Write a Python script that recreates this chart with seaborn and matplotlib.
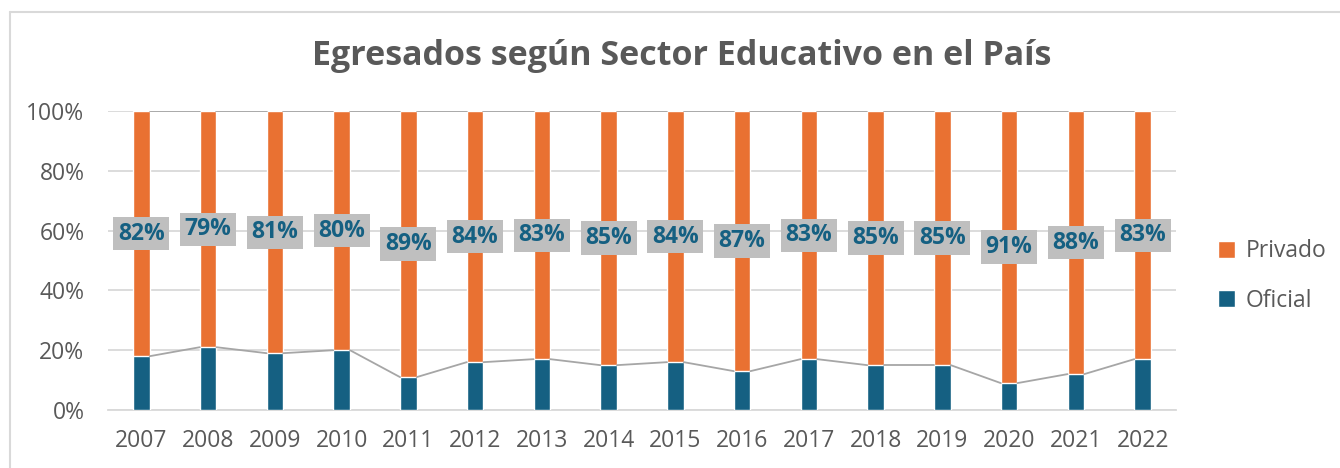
import matplotlib
matplotlib.use("Agg")
import matplotlib.pyplot as plt
import seaborn as sns
import pandas as pd
import numpy as np
from matplotlib.lines import Line2D
from matplotlib.patches import Patch

years = ["2007", "2008", "2009", "2010", "2011", "2012", "2013", "2014",
         "2015", "2016", "2017", "2018", "2019", "2020", "2021", "2022"]
privado = [82, 79, 81, 80, 89, 84, 83, 85, 84, 87, 83, 85, 85, 91, 88, 83]
oficial = [100 - p for p in privado]

sns.set_theme(style="white")
plt.rcParams['font.family'] = ['Open Sans', 'DejaVu Sans']

ORANGE = "#E97132"
BLUE = "#156082"
TXT = "#595959"
GRID = "#D9D9D9"

df = pd.DataFrame({"year": years, "Oficial": oficial, "Privado": privado})
df["total"] = df["Oficial"] + df["Privado"]

fig = plt.figure(figsize=(13.4, 4.68), dpi=100)
ax = fig.add_axes([108/1340, 58/468, (1176-108)/1340, (410-111)/468])

sns.barplot(data=df, x="year", y="total", color=ORANGE, width=0.25,
            saturation=1, ax=ax, zorder=2)
sns.barplot(data=df, x="year", y="Oficial", color=BLUE, width=0.25,
            saturation=1, ax=ax, zorder=3)

# series lines connecting bar tops
bars = ax.patches[len(years):]
for i in range(len(bars) - 1):
    b0, b1 = bars[i], bars[i + 1]
    x0 = b0.get_x() + b0.get_width()
    x1 = b1.get_x()
    ax.plot([x0, x1], [b0.get_height(), b1.get_height()], color="#A6A6A6",
            lw=1.3, zorder=4)
    ax.plot([x0, x1], [100, 100], color="#A6A6A6", lw=1.3, zorder=4)

# data labels
for i, (o, p) in enumerate(zip(oficial, privado)):
    ax.text(i, o + p / 2, f"{p}%", ha="center", va="center", fontsize=16.5,
            fontweight="bold", color=BLUE, zorder=5,
            bbox=dict(boxstyle="square,pad=0.2", fc="#BFBFBF", ec="none"))

ax.set_xlim(-0.5, len(years) - 0.5)
ax.set_ylim(0, 100)
ax.set_yticks([0, 20, 40, 60, 80, 100])
ax.set_yticklabels([f"{v}%" for v in [0, 20, 40, 60, 80, 100]])
ax.yaxis.grid(True, color=GRID, lw=1.3, zorder=0)
ax.set_axisbelow(True)
for s in ["top", "right", "left"]:
    ax.spines[s].set_visible(False)
ax.spines["bottom"].set_color(GRID)
ax.spines["bottom"].set_linewidth(1.3)
ax.tick_params(axis="both", length=0, labelsize=16.5, colors=TXT)
ax.tick_params(axis="x", pad=14)
ax.tick_params(axis="y", pad=17)
ax.set_xlabel("")
ax.set_ylabel("")

fig.text(682/1340, 1 - 56/468, "Egresados según Sector Educativo en el País",
         ha="center", va="center", fontsize=24.5, fontweight="bold", color=TXT)

handles = [Patch(facecolor=ORANGE, label="Privado"),
           Patch(facecolor=BLUE, label="Oficial")]
fig.legend(handles=handles, loc="center left",
           bbox_to_anchor=(1218/1340, 1 - 276/468), frameon=False,
           borderaxespad=0, borderpad=0,
           fontsize=16.5, labelcolor=TXT, handlelength=0.75, handleheight=0.75,
           handletextpad=0.45, labelspacing=1.1)

# chart border (left and top visible)
fig.add_artist(Line2D([10/1340, 10/1340], [0, 1 - 12/468], color="#D9D9D9",
                      lw=1.5, transform=fig.transFigure))
fig.add_artist(Line2D([10/1340, 1], [1 - 12/468, 1 - 12/468], color="#D9D9D9",
                      lw=1.5, transform=fig.transFigure))

fig.savefig("out.png", dpi=100, facecolor="white")
